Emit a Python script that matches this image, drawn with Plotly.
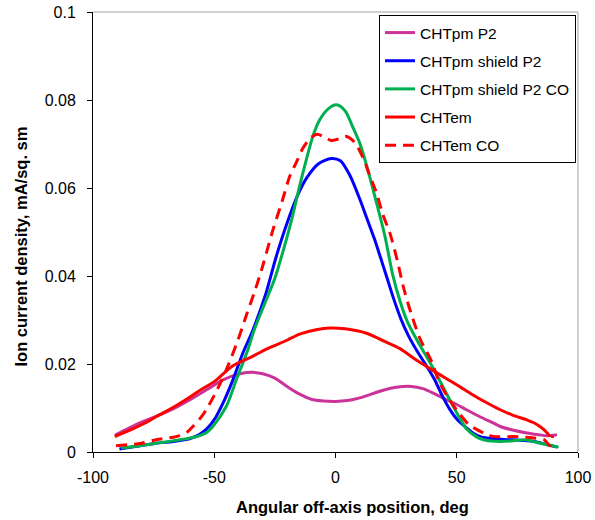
import plotly.graph_objects as go

# ---- data ----
pm_p2_x = [-91, -85, -80, -74, -67, -60, -53, -46.4, -40, -35, -30, -25, -20, -15, -10, -5, 0, 5, 10, 15, 20, 25, 31.4, 36, 40.3, 45, 50, 54, 60, 65, 68, 73, 79, 84, 87, 91.3]
pm_p2_y = [0.0038, 0.0055, 0.0068, 0.0081, 0.0098, 0.0119, 0.0142, 0.0164, 0.0177, 0.0181, 0.0178, 0.0168, 0.0149, 0.0132, 0.0120, 0.0116, 0.0115, 0.0117, 0.0123, 0.0132, 0.0141, 0.0147, 0.0149, 0.0144, 0.0134, 0.0121, 0.0108, 0.0096, 0.0079, 0.0066, 0.0058, 0.0050, 0.0043, 0.0039, 0.0037, 0.0039]

shield_x = [-89.1, -80, -74, -67, -60.2, -56, -53, -49.5, -46.4, -42.3, -38.2, -34, -29, -24.4, -20, -15.5, -12, -7, -1.7, 2, 6, 10, 13, 16, 18.5, 21, 24, 27, 30, 34, 37.5, 41, 44, 47, 50, 54, 57, 60, 65, 72, 78, 82, 87, 91.3]
shield_y = [0.0007, 0.0015, 0.0020, 0.0024, 0.0030, 0.0040, 0.0053, 0.0078, 0.0111, 0.0164, 0.0225, 0.0278, 0.0355, 0.0445, 0.0520, 0.0585, 0.0622, 0.0655, 0.0667, 0.0662, 0.0628, 0.0575, 0.0530, 0.0485, 0.0443, 0.0400, 0.0348, 0.0302, 0.0265, 0.0226, 0.0196, 0.0163, 0.0128, 0.0098, 0.0075, 0.0055, 0.0042, 0.0034, 0.0030, 0.0028, 0.0026, 0.0024, 0.0017, 0.0011]

shield_co_x = [-88.4, -80, -74, -65, -57.4, -53, -50.6, -45, -40.9, -36.1, -33.5, -29, -25, -21.7, -18, -15, -12, -9.3, -6.5, -3, 0.4, 4, 7, 10, 13, 16.5, 20.4, 23.5, 26.5, 29.5, 33.5, 37, 40, 43, 46.5, 50, 54, 58, 61, 68, 74, 77.5, 81, 84.4, 88, 92]
shield_co_y = [0.0009, 0.0015, 0.0020, 0.0027, 0.0035, 0.0045, 0.0058, 0.0104, 0.0164, 0.0233, 0.0278, 0.0340, 0.0395, 0.0455, 0.0530, 0.0600, 0.0665, 0.0718, 0.0755, 0.0780, 0.0789, 0.0775, 0.0740, 0.0702, 0.0648, 0.0575, 0.0490, 0.0405, 0.0345, 0.0298, 0.0255, 0.0222, 0.0193, 0.0162, 0.0125, 0.0089, 0.0053, 0.0035, 0.0028, 0.0024, 0.0026, 0.0028, 0.0025, 0.0020, 0.0016, 0.0011]

em_x = [-91, -85, -80, -74, -67, -60, -56, -50, -42.3, -35, -28.5, -20, -14.8, -8, -2.4, 4, 12.8, 20, 26.6, 33, 40.3, 46, 51.4, 56, 62, 67.9, 73, 78.9, 82, 85, 87, 88.5]
em_y = [0.0035, 0.0049, 0.0062, 0.0080, 0.0101, 0.0125, 0.0140, 0.0160, 0.0196, 0.0215, 0.0234, 0.0254, 0.0268, 0.0278, 0.0282, 0.0280, 0.0270, 0.0252, 0.0235, 0.0210, 0.0185, 0.0166, 0.0148, 0.0132, 0.0113, 0.0096, 0.0084, 0.0073, 0.0066, 0.0055, 0.0045, 0.0035]

em_co_x = [-90.5, -80, -74, -65.7, -61, -58.8, -56, -53.3, -48.5, -44.4, -40.2, -36.8, -33, -29.9, -25.8, -22, -18.9, -16, -13.4, -10, -7.5, -4, -1.7, 1.5, 4.5, 8, 11.4, 14, 16.9, 19.5, 22.4, 25.5, 28, 31, 34.8, 39.7, 42.4, 46.5, 51.4, 55, 58.3, 62, 65.1, 73.4, 81.7, 86, 88.5, 89.5]
em_co_y = [0.0014, 0.0020, 0.0028, 0.0035, 0.0046, 0.0058, 0.0075, 0.0096, 0.0145, 0.0195, 0.0255, 0.0310, 0.0370, 0.0425, 0.0505, 0.0570, 0.0626, 0.0660, 0.0691, 0.0715, 0.0722, 0.0714, 0.0708, 0.0712, 0.0717, 0.0703, 0.0668, 0.0630, 0.0589, 0.0540, 0.0498, 0.0435, 0.0375, 0.0318, 0.0258, 0.0205, 0.0164, 0.0123, 0.0085, 0.0062, 0.0051, 0.0041, 0.0035, 0.0035, 0.0032, 0.0028, 0.0014, 0.0037]

series_names = ["CHTpm P2", "CHTpm shield P2", "CHTpm shield P2 CO", "CHTem", "CHTem CO"]

x_tick_vals = [-100, -50, 0, 50, 100]
x_tick_text = ["-100", "-50", "0", "50", "100"]
y_tick_vals = [0, 0.02, 0.04, 0.06, 0.08, 0.1]
y_tick_text = ["0", "0.02", "0.04", "0.06", "0.08", "0.1"]

x_title = "Angular off-axis position, deg"
y_title = "Ion current density, mA/sq. sm"

# ---- styling ----
FONT = "Liberation Sans, Arial, sans-serif"
colors = ["#CC3399", "#0000FF", "#00B050", "#FF0000", "#FF0000"]
dashes = ["solid", "solid", "solid", "solid", "11px,7px"]
xs = [pm_p2_x, shield_x, shield_co_x, em_x, em_co_x]
ys = [pm_p2_y, shield_y, shield_co_y, em_y, em_co_y]

fig = go.Figure()
for i, (name, x, y) in enumerate(zip(series_names, xs, ys)):
    fig.add_trace(go.Scatter(
        x=x, y=y, name=name, mode="lines",
        line=dict(color=colors[i], width=3, dash=dashes[i], shape="spline", smoothing=0.8),
        legendgroup="g%d" % i,
    ))

W, H = 595, 520
ml, mr, mt, mb = 93, 17, 12, 68
pw, ph = W - ml - mr, H - mt - mb

fig.update_layout(
    template="none",
    width=W, height=H,
    margin=dict(l=ml, r=mr, t=mt, b=mb, pad=0, autoexpand=False),
    paper_bgcolor="white", plot_bgcolor="white",
    font=dict(family=FONT, size=16, color="black"),
    showlegend=True,
    legend=dict(
        x=(576 - ml) / pw, y=((H - mb) - 15) / ph, xanchor="right", yanchor="top",
        bgcolor="white", bordercolor="black", borderwidth=1,
        font=dict(family=FONT, size=15.5, color="black"),
        tracegroupgap=5, traceorder="grouped", itemwidth=30,
    ),
    xaxis=dict(
        range=[-100, 100], tickmode="array", tickvals=x_tick_vals, ticktext=x_tick_text,
        showgrid=False, zeroline=False, showline=True, linecolor="black", linewidth=1,
        ticks="outside", ticklen=5, tickcolor="black", tickwidth=1, ticklabelstandoff=6,
        automargin=False, tickfont=dict(family=FONT, size=16, color="black"),
    ),
    yaxis=dict(
        range=[0, 0.1], tickmode="array", tickvals=y_tick_vals, ticktext=y_tick_text,
        showgrid=False, zeroline=False, showline=True, linecolor="black", linewidth=1,
        ticks="outside", ticklen=5, tickcolor="black", tickwidth=1, ticklabelstandoff=8,
        automargin=False, tickfont=dict(family=FONT, size=16, color="black"),
    ),
    shapes=[
        dict(type="line", xref="paper", yref="paper", x0=0, x1=1, y0=1, y1=1,
             line=dict(color="#A0A0A0", width=1)),
        dict(type="line", xref="paper", yref="paper", x0=1, x1=1, y0=0, y1=1,
             line=dict(color="#A0A0A0", width=1)),
    ],
    annotations=[
        dict(text="<b>%s</b>" % x_title, xref="paper", yref="paper",
             x=(352 - ml) / pw, y=-(507 - (H - mb)) / ph, xanchor="center", yanchor="middle",
             showarrow=False, font=dict(family=FONT, size=16.5, color="black")),
        dict(text="<b>%s</b>" % y_title, xref="paper", yref="paper",
             x=(20 - ml) / pw, y=((H - mb) - 246.5) / ph, xanchor="center", yanchor="middle",
             textangle=-90, showarrow=False, font=dict(family=FONT, size=16.5, color="black")),
    ],
)

fig.write_html("out.html", config={"displayModeBar": False},
               post_script="document.body.style.margin='0px';document.body.style.overflow='hidden';")
